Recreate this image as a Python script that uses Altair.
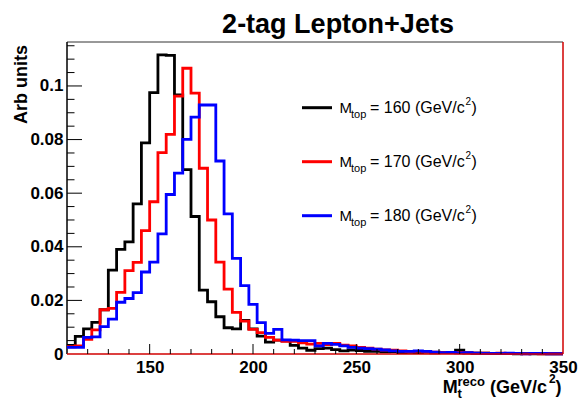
import altair as alt
import pandas as pd

# ---------------- data ----------------
bin_start = 110
bin_width = 4
x_min, x_max = 110, 350
y_max = 0.1164

m160 = [0.0032, 0.0066, 0.0094, 0.0118, 0.0165, 0.0313, 0.0390, 0.0418, 0.0560, 0.0788,
        0.0975, 0.1116, 0.1114, 0.0967, 0.0688, 0.0513, 0.0238, 0.0195, 0.0139, 0.0098,
        0.0094, 0.0125, 0.0094, 0.0067, 0.0044, 0.0052, 0.0049, 0.0032, 0.0022, 0.0014,
        0.0020, 0.0022, 0.0016, 0.0012, 0.0015, 0.0013, 0.0010, 0.0010, 0.0008, 0.0009,
        0.0005, 0.0006, 0.0005, 0.0007, 0.0004, 0.0006, 0.0005, 0.0014, 0.0004, 0.0003,
        0.0003, 0.0002, 0.0002, 0.0002, 0.0001, 0.0002, 0.0001, 0.0001, 0.0001, 0.0001]

m170 = [0.0027, 0.0030, 0.0055, 0.0090, 0.0165, 0.0170, 0.0230, 0.0311, 0.0342, 0.0460,
        0.0568, 0.0751, 0.0819, 0.0962, 0.1066, 0.0973, 0.0693, 0.0500, 0.0343, 0.0242,
        0.0155, 0.0123, 0.0092, 0.0080, 0.0062, 0.0052, 0.0047, 0.0047, 0.0042, 0.0037,
        0.0040, 0.0035, 0.0040, 0.0033, 0.0030, 0.0025, 0.0022, 0.0018, 0.0015, 0.0014,
        0.0012, 0.0009, 0.0010, 0.0008, 0.0007, 0.0006, 0.0005, 0.0006, 0.0004, 0.0003,
        0.0003, 0.0002, 0.0003, 0.0002, 0.0002, 0.0001, 0.0002, 0.0001, 0.0001, 0.0001]

m180 = [0.0025, 0.0025, 0.0062, 0.0064, 0.0102, 0.0130, 0.0193, 0.0207, 0.0229, 0.0306,
        0.0343, 0.0448, 0.0595, 0.0675, 0.0801, 0.0884, 0.0929, 0.0929, 0.0720, 0.0523,
        0.0357, 0.0255, 0.0185, 0.0117, 0.0077, 0.0092, 0.0053, 0.0052, 0.0050, 0.0050,
        0.0030, 0.0040, 0.0036, 0.0030, 0.0025, 0.0022, 0.0020, 0.0018, 0.0015, 0.0012,
        0.0010, 0.0010, 0.0012, 0.0010, 0.0007, 0.0005, 0.0006, 0.0004, 0.0005, 0.0003,
        0.0002, 0.0002, 0.0002, 0.0003, 0.0002, 0.0001, 0.0002, 0.0002, 0.0001, 0.0001]

mass_labels = ["160", "170", "180"]
line_colors = ["#000000", "#ff0000", "#0000ff"]

x_label_values = [150, 200, 250, 300, 350]
x_major_ticks = [150, 200, 250, 300]
x_minor_ticks = [120, 130, 140, 160, 170, 180, 190, 210, 220, 230, 240,
                 260, 270, 280, 290, 310, 320, 330, 340]
y_label_values = [0, 0.02, 0.04, 0.06, 0.08, 0.1]
y_major_ticks = [0.02, 0.04, 0.06, 0.08, 0.1]
y_minor_ticks = [0.005, 0.01, 0.015, 0.025, 0.03, 0.035, 0.045, 0.05, 0.055,
                 0.065, 0.07, 0.075, 0.085, 0.09, 0.095, 0.105, 0.11, 0.115]

title_text = "2-tag Lepton+Jets"
y_title_text = "Arb units"

# ---------------- layout ----------------
FONT = "Liberation Sans"
W, H = 496, 312
PAD = {"left": 67, "top": 42, "right": 17, "bottom": 46}

xs = alt.Scale(domain=[x_min, x_max], nice=False, zero=False)
ys = alt.Scale(domain=[0, y_max], nice=False, zero=True)

x_axis = alt.Axis(values=x_label_values, ticks=False, domain=False, grid=False,
                  labelFont=FONT, labelFontSize=17, labelFontWeight="bold",
                  labelColor="black", labelPadding=5, labelFlush=False)
y_axis = alt.Axis(values=y_label_values, ticks=False, domain=False, grid=False,
                  format="~g", labelFont=FONT, labelFontSize=17, labelFontWeight="bold",
                  labelColor="black", labelPadding=4, labelFlush=False)

X = lambda: alt.X("x:Q", scale=xs, axis=x_axis, title=None)
Y = lambda: alt.Y("y:Q", scale=ys, axis=y_axis, title=None)

one_row = pd.DataFrame({"k": [0]})


def hist_df(vals):
    xs_ = [bin_start + i * bin_width for i in range(len(vals))] + [bin_start + len(vals) * bin_width]
    ys_ = list(vals) + [vals[-1]]
    return pd.DataFrame({"x": xs_, "y": ys_, "i": list(range(len(xs_)))})


layers = []

# frame
layers.append(alt.Chart(one_row).mark_rule(color="#333333", strokeWidth=1).encode(
    x=alt.value(0), x2=alt.value(W), y=alt.value(0)))
layers.append(alt.Chart(one_row).mark_rule(color="black", strokeWidth=1.5).encode(
    x=alt.value(0), y=alt.value(0), y2=alt.value(H)))

# histograms
for vals, col in zip([m160, m170, m180], line_colors):
    layers.append(
        alt.Chart(hist_df(vals)).mark_line(interpolate="step-after", strokeWidth=2.8,
                                           color=col, strokeJoin="miter")
        .encode(x=X(), y=Y(), order="i:Q")
    )

# red right / bottom frame
layers.append(alt.Chart(one_row).mark_rule(color="#d00000", strokeWidth=1.5).encode(
    x=alt.value(0), x2=alt.value(W), y=alt.value(H)))
layers.append(alt.Chart(one_row).mark_rule(color="#d00000", strokeWidth=1.5).encode(
    x=alt.value(W), y=alt.value(0), y2=alt.value(H)))

# inward ticks
layers.append(alt.Chart(pd.DataFrame({"x": x_minor_ticks})).mark_rule(color="black", strokeWidth=1)
              .encode(x=X(), y=alt.value(H), y2=alt.value(H - 5)))
layers.append(alt.Chart(pd.DataFrame({"x": x_major_ticks})).mark_rule(color="black", strokeWidth=1)
              .encode(x=X(), y=alt.value(H), y2=alt.value(H - 10)))
layers.append(alt.Chart(pd.DataFrame({"y": y_minor_ticks})).mark_rule(color="black", strokeWidth=1)
              .encode(y=Y(), x=alt.value(0), x2=alt.value(7.5)))
layers.append(alt.Chart(pd.DataFrame({"y": y_major_ticks})).mark_rule(color="black", strokeWidth=1)
              .encode(y=Y(), x=alt.value(0), x2=alt.value(15)))


def txt(s, x, y, size, weight="bold", align="left", angle=None):
    kw = dict(text=s, font=FONT, fontSize=size, fontWeight=weight, align=align,
              baseline="alphabetic", color="black")
    if angle is not None:
        kw["angle"] = angle
    return alt.Chart(one_row).mark_text(**kw).encode(x=alt.value(x), y=alt.value(y))


# title and axis titles
layers.append(txt(title_text, 271, -9, 27, align="center"))
layers.append(txt(y_title_text, -40, 3, 18, align="right", angle=270))
layers.append(txt("M", 375.7, 351, 18))
layers.append(txt("reco", 390.5, 344, 13))
layers.append(txt("t", 390.5, 356, 13))
layers.append(txt("(GeV/c", 423, 351, 18))
layers.append(txt("2", 482, 341, 12))
layers.append(txt(")", 488.5, 351, 18))

# legend
for i, (m, col) in enumerate(zip(mass_labels, line_colors)):
    ly = 65.7 + i * 54
    layers.append(alt.Chart(one_row).mark_rule(color=col, strokeWidth=3).encode(
        x=alt.value(235), x2=alt.value(265), y=alt.value(ly)))
    layers.append(txt("M", 272.5, ly + 4.8, 15, weight="normal"))
    layers.append(txt("top", 284, ly + 10.3, 11, weight="normal"))
    layers.append(txt(f"= {m} (GeV/c", 303, ly + 4.8, 16, weight="normal"))
    layers.append(txt("2", 398.5, ly - 2.5, 10, weight="normal"))
    layers.append(txt(")", 404.5, ly + 4.8, 16, weight="normal"))

chart = alt.layer(*layers).properties(
    width=W, height=H,
    autosize=alt.AutoSizeParams(type="none"),
    padding=PAD,
    background="white",
).configure_view(stroke=None)

chart.save("out.html", embed_options={"renderer": "svg", "actions": False})
